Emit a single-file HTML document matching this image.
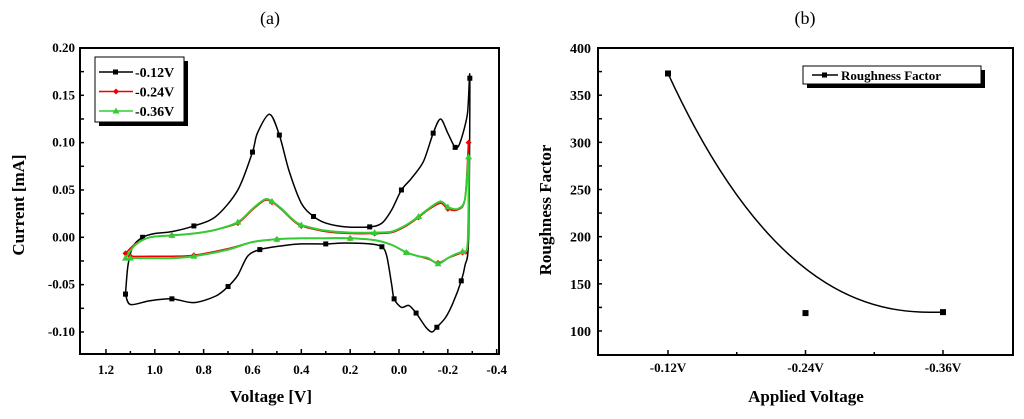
<!DOCTYPE html>
<html><head><meta charset="utf-8"><style>
html,body{margin:0;padding:0;background:#fff;}
svg{display:block;}
text{font-family:"Liberation Serif",serif;}
</style></head><body>
<svg id="s" width="1024" height="419" xmlns="http://www.w3.org/2000/svg">
<text x="270" y="24" font-size="18" text-anchor="middle">(a)</text>
<text x="805" y="24" font-size="18" text-anchor="middle">(b)</text>
<g id="A"></g>
<g id="B"></g>
</svg>
<script>
// ---- Panel (a) data ----
const xTicksA = [1.2,1.0,0.8,0.6,0.4,0.2,0.0,-0.2,-0.4];
const xTickLabelsA = ["1.2","1.0","0.8","0.6","0.4","0.2","0.0","-0.2","-0.4"];
const yTicksA = [0.20,0.15,0.10,0.05,0.00,-0.05,-0.10];
const yTickLabelsA = ["0.20","0.15","0.10","0.05","0.00","-0.05","-0.10"];
const seriesNamesA = ["-0.12V","-0.24V","-0.36V"];
const blackV = [1.12,1.11,1.09,1.05,1.0,0.93,0.84,0.75,0.66,0.6,0.58,0.53,0.49,0.45,0.40,0.35,0.30,0.22,0.12,0.07,0.03,-0.01,-0.05,-0.1,-0.14,-0.17,-0.2,-0.23,-0.25,-0.28,-0.29,
 -0.285,-0.27,-0.255,-0.22,-0.19,-0.155,-0.135,-0.11,-0.07,-0.04,-0.01,0.02,0.03,0.05,0.07,0.12,0.22,0.3,0.4,0.48,0.57,0.62,0.66,0.7,0.75,0.84,0.93,1.02,1.1,1.12];
const blackI = [-0.06,-0.03,-0.01,0.0,0.004,0.006,0.012,0.022,0.05,0.09,0.11,0.13,0.108,0.07,0.036,0.022,0.015,0.011,0.011,0.015,0.029,0.05,0.062,0.08,0.11,0.125,0.11,0.095,0.1,0.13,0.168,
 0.0,-0.03,-0.046,-0.07,-0.085,-0.095,-0.1,-0.095,-0.08,-0.072,-0.074,-0.065,-0.05,-0.02,-0.01,-0.007,-0.006,-0.007,-0.007,-0.009,-0.013,-0.02,-0.04,-0.052,-0.062,-0.069,-0.065,-0.067,-0.071,-0.06];
const redV = [1.12,1.08,1.02,0.93,0.84,0.75,0.66,0.6,0.55,0.52,0.48,0.44,0.4,0.3,0.2,0.1,0.03,-0.03,-0.08,-0.12,-0.17,-0.2,-0.24,-0.27,-0.285,
 -0.285,-0.28,-0.26,-0.23,-0.2,-0.16,-0.12,-0.08,-0.03,0.03,0.1,0.2,0.3,0.4,0.5,0.6,0.7,0.84,0.93,1.02,1.1,1.12];
const redI = [-0.017,-0.007,0.0,0.002,0.004,0.008,0.015,0.029,0.039,0.037,0.029,0.019,0.012,0.006,0.004,0.004,0.005,0.012,0.021,0.029,0.036,0.03,0.029,0.04,0.1,
 0.05,-0.012,-0.016,-0.019,-0.022,-0.027,-0.023,-0.02,-0.016,-0.008,-0.003,-0.001,-0.001,-0.001,-0.002,-0.005,-0.012,-0.019,-0.02,-0.02,-0.02,-0.017];
const greenV = [1.12,1.08,1.02,0.93,0.84,0.75,0.66,0.6,0.55,0.52,0.48,0.44,0.4,0.3,0.2,0.1,0.03,-0.03,-0.08,-0.12,-0.17,-0.2,-0.24,-0.27,-0.285,
 -0.285,-0.28,-0.26,-0.23,-0.2,-0.16,-0.12,-0.08,-0.03,0.03,0.1,0.2,0.3,0.4,0.5,0.6,0.7,0.84,0.93,1.02,1.1,1.12];
const greenI = [-0.022,-0.008,0.0,0.002,0.004,0.008,0.016,0.03,0.04,0.038,0.03,0.02,0.013,0.007,0.005,0.005,0.006,0.013,0.022,0.03,0.038,0.032,0.03,0.04,0.085,
 0.04,-0.01,-0.015,-0.018,-0.022,-0.028,-0.022,-0.02,-0.016,-0.008,-0.003,-0.001,-0.001,-0.001,-0.002,-0.005,-0.013,-0.02,-0.022,-0.022,-0.022,-0.024];
// ---- Panel (b) data ----
const catsB = ["-0.12V","-0.24V","-0.36V"];
const valsB = [373,119,120];
const yTicksB = [100,150,200,250,300,350,400];
const yTickLabelsB = ["100","150","200","250","300","350","400"];

const NS="http://www.w3.org/2000/svg";
function mk(p,tag,at,txt){const e=document.createElementNS(NS,tag);for(const k in at)e.setAttribute(k,at[k]);if(txt!==undefined)e.textContent=txt;p.appendChild(e);return e;}
function smooth(pts){let d='M'+pts[0][0]+','+pts[0][1];
  for(let i=0;i<pts.length-1;i++){const p0=pts[Math.max(i-1,0)],p1=pts[i],p2=pts[i+1],p3=pts[Math.min(i+2,pts.length-1)];
    const t=0.15;
    d+=` C${p1[0]+(p2[0]-p0[0])*t},${p1[1]+(p2[1]-p0[1])*t} ${p2[0]-(p3[0]-p1[0])*t},${p2[1]-(p3[1]-p1[1])*t} ${p2[0]},${p2[1]}`;}
  return d;}

// Panel A
const A=document.getElementById('A');
const axL=80,axR=499,axT=48,axB=354;
const xA=v=>399-v*244.2;
const yA=v=>237.3-v*946.7;
let e;
e=mk(A,'rect',{x:axL,y:axT,width:axR-axL,height:axB-axT,fill:'none',stroke:'#000','stroke-width':2});

for(let v=1.2;v>=-0.41;v-=0.1){const x=xA(v);mk(A,'line',{x1:x,x2:x,y1:axB,y2:axB-(Math.abs(Math.round(v*10))%2===0?5:3),stroke:'#000','stroke-width':1.5});}
xTicksA.forEach((v,i)=>{e=mk(A,'text',{x:xA(v),y:374,'font-size':13,'font-weight':'bold','text-anchor':'middle'},xTickLabelsA[i]);
});
for(let v=0.2;v>=-0.121;v-=0.025){const y=yA(v);mk(A,'line',{x1:axL,x2:axL+4,y1:y,y2:y,stroke:'#000','stroke-width':1.5});}
yTicksA.forEach((v,i)=>{e=mk(A,'text',{x:75,y:yA(v)+4,'font-size':13,'font-weight':'bold','text-anchor':'end'},yTickLabelsA[i]);
});
e=mk(A,'text',{x:271,y:402,'font-size':17,'font-weight':'bold','text-anchor':'middle'},'Voltage [V]');

e=mk(A,'text',{x:0,y:0,'font-size':17,'font-weight':'bold','text-anchor':'middle',transform:'translate(24,205) rotate(-90)'},'Current [mA]');

function seriesA(V,I,col,w,marker,name){
  const g=mk(A,'g',{});
  
  mk(g,'path',{d:smooth(V.map((v,i)=>[xA(v),yA(I[i])])),fill:'none',stroke:col,'stroke-width':w,'stroke-linejoin':'round'});
  V.forEach((v,i)=>{if(i%3!==0)return;const x=xA(v),y=yA(I[i]);
    if(marker==='sq')mk(g,'rect',{x:x-2.5,y:y-2.5,width:5,height:5,fill:col});
    else if(marker==='di')mk(g,'polygon',{points:`${x},${y-3} ${x+3},${y} ${x},${y+3} ${x-3},${y}`,fill:col});
    else mk(g,'polygon',{points:`${x},${y-3.5} ${x+3.5},${y+2.5} ${x-3.5},${y+2.5}`,fill:col});});
}
seriesA(blackV,blackI,'#000',1.5,'sq','series-012v');
seriesA(redV,redI,'#e00',1.5,'di','series-024v');
seriesA(greenV,greenI,'#3c3',2,'tr','series-036v');
// legend A
const lg=mk(A,'g',{});
mk(lg,'rect',{x:99,y:61,width:89,height:65,fill:'#000'});
mk(lg,'rect',{x:95,y:57,width:89,height:65,fill:'#fff',stroke:'#000','stroke-width':1});
const lcol=['#000','#e00','#3c3'],lmk=['sq','di','tr'];
seriesNamesA.forEach((n,i)=>{const y=72+i*19.5;const it=mk(lg,'g',{});
  
  mk(it,'line',{x1:99,x2:133,y1:y,y2:y,stroke:lcol[i],'stroke-width':1.5});
  if(lmk[i]==='sq')mk(it,'rect',{x:113,y:y-2.5,width:5,height:5,fill:lcol[i]});
  else if(lmk[i]==='di')mk(it,'polygon',{points:`116,${y-3} 119,${y} 116,${y+3} 113,${y}`,fill:lcol[i]});
  else mk(it,'polygon',{points:`116,${y-3.5} 119.5,${y+2.5} 112.5,${y+2.5}`,fill:lcol[i]});
  mk(it,'text',{x:135,y:y+5,'font-size':14,'font-weight':'bold'},n);});

// Panel B
const B=document.getElementById('B');
const bL=598,bR=1013,bT=48,bB=355;
const xB=i=>668+i*137.5;
const yB=v=>331-(v-100)*0.9433;
e=mk(B,'rect',{x:bL,y:bT,width:bR-bL,height:bB-bT,fill:'none',stroke:'#000','stroke-width':2});

for(let v=100;v<=400;v+=25){const y=yB(v);mk(B,'line',{x1:bL,x2:bL+4,y1:y,y2:y,stroke:'#000','stroke-width':1.5});}
for(let k=0;k<=4;k++){const x=xB(k/2);mk(B,'line',{x1:x,x2:x,y1:bB,y2:bB-(k%2===0?5:3),stroke:'#000','stroke-width':1.5});}
yTicksB.forEach((v,i)=>{e=mk(B,'text',{x:591,y:yB(v)+5,'font-size':14,'font-weight':'bold','text-anchor':'end','font-family':'Liberation Sans, sans-serif'},yTickLabelsB[i]);
});
catsB.forEach((c,i)=>{e=mk(B,'text',{x:xB(i),y:372,'font-size':13,'font-weight':'bold','text-anchor':'middle','font-family':'Liberation Sans, sans-serif'},c);
});
e=mk(B,'text',{x:806,y:402,'font-size':17,'font-weight':'bold','text-anchor':'middle'},'Applied Voltage');

e=mk(B,'text',{x:0,y:0,'font-size':17,'font-weight':'bold','text-anchor':'middle',transform:'translate(551,210) rotate(-90)'},'Roughness Factor');

const n=valsB.length-1;
const fit=mk(B,'path',{d:`M${xB(0)},${yB(valsB[0])} C${xB(0.8)},${yB(valsB[1])} ${xB(1.6)},${yB(Math.min(valsB[1],valsB[2]))} ${xB(n)},${yB(valsB[n])}`,fill:'none',stroke:'#000','stroke-width':1.5});

valsB.forEach((v,i)=>{e=mk(B,'rect',{x:xB(i)-3,y:yB(v)-3,width:6,height:6,fill:'#000'});
});
const lb=mk(B,'g',{});
mk(lb,'rect',{x:807,y:70,width:178,height:18,fill:'#000'});
mk(lb,'rect',{x:803,y:66,width:178,height:18,fill:'#fff',stroke:'#000','stroke-width':1});
mk(lb,'line',{x1:812,x2:838,y1:75,y2:75,stroke:'#000','stroke-width':1.5});
mk(lb,'rect',{x:822,y:72.5,width:5,height:5,fill:'#000'});
mk(lb,'text',{x:841,y:80,'font-size':13,'font-weight':'bold'},'Roughness Factor');
</script>
</body></html>
